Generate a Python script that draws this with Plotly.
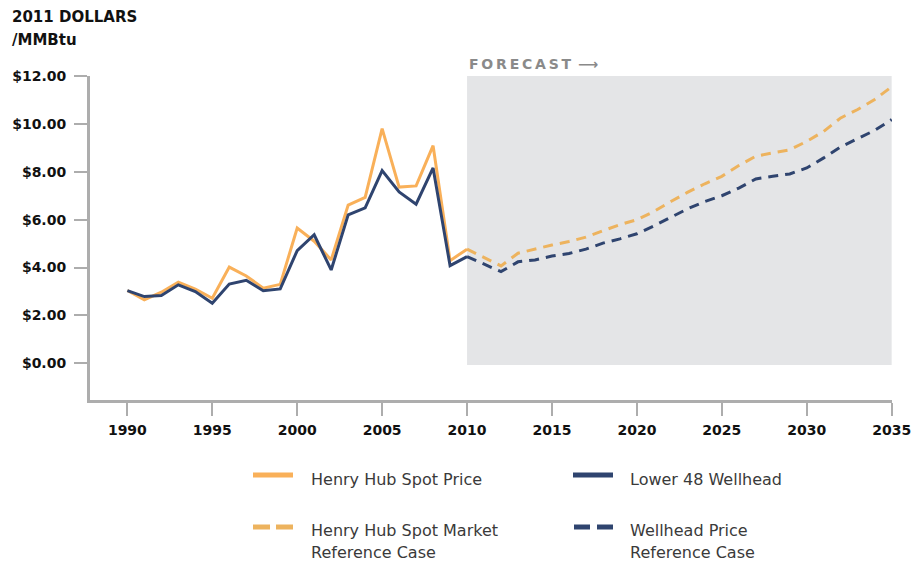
import plotly.graph_objects as go

# Historical prices, 2011 dollars per MMBtu
hist_years = list(range(1990, 2011))
henry_hub_spot = [3.04, 2.65, 2.97, 3.39, 3.10, 2.72, 4.02, 3.65, 3.14, 3.30,
                  5.65, 5.10, 4.32, 6.61, 6.93, 9.80, 7.36, 7.41, 9.09, 4.29, 4.77]
lower48_wellhead = [3.04, 2.79, 2.83, 3.28, 3.00, 2.51, 3.31, 3.47, 3.03, 3.11,
                    4.71, 5.37, 3.90, 6.20, 6.49, 8.05, 7.16, 6.65, 8.16, 4.08, 4.46]

# Reference case projections
fc_years = list(range(2010, 2036))
henry_hub_ref = [4.77, 4.42, 4.07, 4.60, 4.78, 4.94, 5.09, 5.27, 5.54, 5.79,
                 6.00, 6.34, 6.76, 7.15, 7.50, 7.81, 8.26, 8.65, 8.79, 8.92,
                 9.27, 9.69, 10.25, 10.60, 11.02, 11.55]
wellhead_ref = [4.46, 4.15, 3.83, 4.24, 4.32, 4.48, 4.59, 4.77, 5.02, 5.20,
                5.41, 5.74, 6.09, 6.46, 6.76, 7.00, 7.32, 7.70, 7.81, 7.91,
                8.16, 8.58, 9.04, 9.37, 9.73, 10.18]

x_ticks = list(range(1990, 2036, 5))
y_ticks = list(range(0, 13, 2))
y_tick_text = [f"${v:.2f}" for v in y_ticks]

ORANGE = "#F9B059"
ORANGE_DASH = "#EDB35E"
NAVY = "#2F446F"
AXIS = "#ADADAD"
SHADE = "#E4E5E7"

# plot area geometry (pixels)
W, H = 919, 562
L, R, T, B = 90, 27, 76, 162
PW, PH = W - L - R, H - T - B


def px(p):
    return (p - L) / PW


def py(q):
    return (H - B - q) / PH


fig = go.Figure()

fig.add_trace(go.Scatter(x=fc_years, y=henry_hub_ref, mode="lines",
                         line=dict(color=ORANGE_DASH, width=3, dash="10px,7px"),
                         showlegend=False))
fig.add_trace(go.Scatter(x=fc_years, y=wellhead_ref, mode="lines",
                         line=dict(color=NAVY, width=3, dash="10px,7px"),
                         showlegend=False))
fig.add_trace(go.Scatter(x=hist_years, y=henry_hub_spot, mode="lines",
                         line=dict(color=ORANGE, width=3), showlegend=False))
fig.add_trace(go.Scatter(x=hist_years, y=lower48_wellhead, mode="lines",
                         line=dict(color=NAVY, width=3), showlegend=False))

# forecast period shading
fig.add_shape(type="rect", xref="x", yref="y", x0=2010, x1=2035, y0=-0.07, y1=12,
              fillcolor=SHADE, line_width=0, layer="below")

tick_font = dict(family="DejaVu Sans", size=14, color="#111111", weight="bold")

fig.update_xaxes(range=[1987.8, 2035.02], tickvals=x_ticks, ticks="outside",
                 ticklen=13, tickwidth=2, tickcolor=AXIS, showline=True,
                 linewidth=3, linecolor=AXIS, showgrid=False, zeroline=False,
                 tickfont=tick_font, ticklabelstandoff=2, automargin=False,
                 ticklabeloverflow="allow")
fig.update_yaxes(range=[-1.53, 12], tickvals=y_ticks, ticktext=y_tick_text,
                 ticks="outside", ticklen=13, tickwidth=2,
                 tickcolor=AXIS, showline=True, linewidth=3, linecolor=AXIS,
                 showgrid=False, zeroline=False, tickfont=tick_font,
                 ticklabelstandoff=5, automargin=False)

annotations = [
    dict(text="2011 DOLLARS", x=px(10), y=py(17)),
    dict(text="/MMBtu", x=px(10), y=py(40)),
]
for a in annotations:
    a.update(xref="paper", yref="paper", xanchor="left", yanchor="middle",
             showarrow=False,
             font=dict(family="DejaVu Sans", size=15, color="#111111", weight="bold"))

annotations.append(dict(
    text="F\u2009O\u2009R\u2009E\u2009C\u2009A\u2009S\u2009T\u2002\u27f6",
    xref="x", yref="paper", x=2010, y=py(64), xanchor="left", yanchor="middle",
    showarrow=False,
    font=dict(family="DejaVu Sans", size=14, color="#8A8A8A", weight="bold")))

# legend keys and labels
legend_font = dict(family="DejaVu Sans", size=16, color="#3A3A3A")
shapes = [
    dict(x0=253, x1=293, y=475, color=ORANGE),
    dict(x0=573, x1=613, y=475, color=NAVY),
    dict(x0=253, x1=270, y=527, color=ORANGE_DASH),
    dict(x0=276, x1=293, y=527, color=ORANGE_DASH),
    dict(x0=574, x1=590, y=527, color=NAVY),
    dict(x0=597, x1=613, y=527, color=NAVY),
]
for s in shapes:
    fig.add_shape(type="line", xref="paper", yref="paper",
                  x0=px(s["x0"]), x1=px(s["x1"]), y0=py(s["y"]), y1=py(s["y"]),
                  line=dict(color=s["color"], width=5))

labels = [
    ("Henry Hub Spot Price", 309, 479),
    ("Lower 48 Wellhead", 628, 479),
    ("Henry Hub Spot Market", 309, 530),
    ("Reference Case", 309, 552),
    ("Wellhead Price", 628, 530),
    ("Reference Case", 628, 552),
]
for text, x, y in labels:
    annotations.append(dict(text=text, xref="paper", yref="paper", x=px(x), y=py(y),
                            xanchor="left", yanchor="middle", showarrow=False,
                            font=legend_font))

fig.update_layout(width=W, height=H, margin=dict(l=L, r=R, t=T, b=B),
                  plot_bgcolor="white", paper_bgcolor="white",
                  annotations=annotations, showlegend=False)

fig.write_html("out.html")
